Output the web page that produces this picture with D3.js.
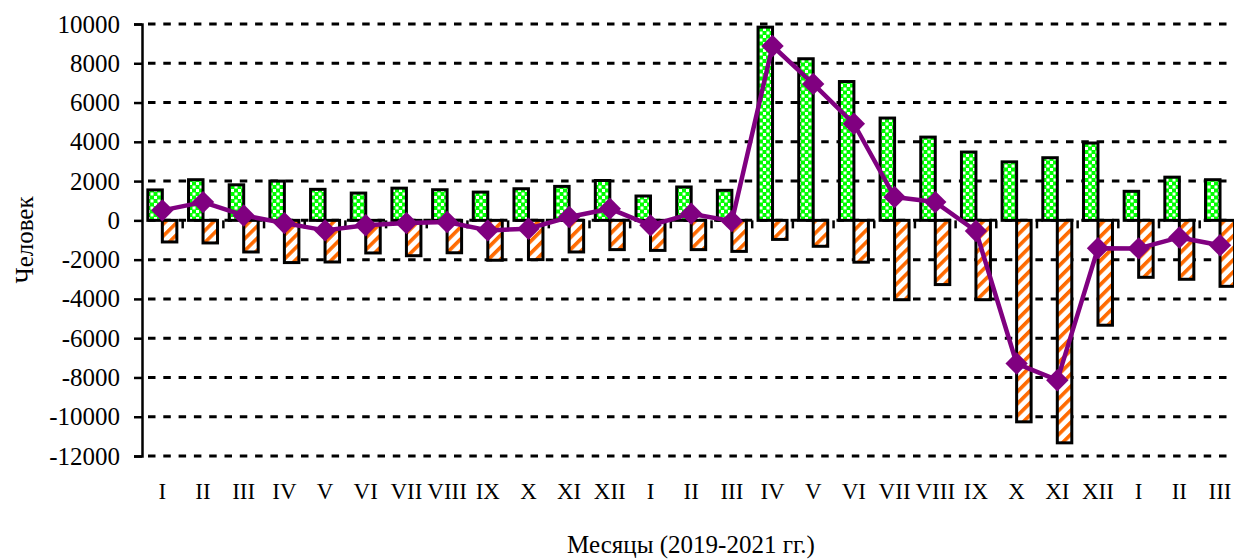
<!DOCTYPE html>
<html>
<head>
<meta charset="utf-8">
<script src="https://cdn.jsdelivr.net/npm/d3@7"></script>
<style>
  html, body { margin: 0; padding: 0; background: #fff; overflow: hidden; }
  svg, svg text { font-family: "Liberation Serif", "Times New Roman", serif !important; }
</style>
</head>
<body>
<div id="chart"></div>
<script>
// months 2019 I .. 2021 III
const months = ["I","II","III","IV","V","VI","VII","VIII","IX","X","XI","XII",
                "I","II","III","IV","V","VI","VII","VIII","IX","X","XI","XII",
                "I","II","III"];
// arrivals (green, positive)
const arrived = [1550, 2070, 1810, 2000, 1580, 1390, 1640, 1560, 1440, 1610, 1730, 2030,
                 1240, 1700, 1530, 9840, 8230, 7070, 5210, 4240, 3480, 2980, 3190, 3940,
                 1480, 2200, 2070];
// departures (orange, negative)
const departed = [-1100, -1150, -1610, -2150, -2120, -1660, -1800, -1650, -2030, -2000, -1610, -1490,
                  -1530, -1490, -1580, -970, -1320, -2130, -4040, -3270, -4040, -10260, -11330, -5340,
                  -2900, -3000, -3360];
// net migration (purple line)
const net = [510, 930, 250, -140, -510, -250, -140, -85, -510, -425, 170, 595,
             -255, 340, -40, 8880, 6950, 4920, 1190, 930, -540, -7290, -8140, -1420,
             -1430, -870, -1270];
const yTicks = d3.range(-12000, 10001, 2000);

// dimensions
let margin = {top: 24, left: 142},
    plotH = 432,
    band = 40.68,
    barW = 14.5;
let W = 1234, H = 560;

let svg = d3.select("#chart").append("svg")
  .attr("width", W).attr("height", H);

let defs = svg.append("defs");
// green checker pattern
let chk = defs.append("pattern").attr("id", "chk")
  .attr("patternUnits", "userSpaceOnUse").attr("width", 7).attr("height", 7);
chk.append("rect").attr("width", 7).attr("height", 7).attr("fill", "#00ff00");
chk.append("rect").attr("width", 3).attr("height", 3).attr("fill", "#ffffff");
chk.append("rect").attr("x", 3.5).attr("y", 3.5).attr("width", 3).attr("height", 3).attr("fill", "#ffffff");
// orange diagonal stripes
let str = defs.append("pattern").attr("id", "str")
  .attr("patternUnits", "userSpaceOnUse").attr("width", 8.5).attr("height", 8.5)
  .attr("patternTransform", "rotate(45)");
str.append("rect").attr("width", 8.5).attr("height", 8.5).attr("fill", "#ffffff");
str.append("rect").attr("width", 3.6).attr("height", 8.5).attr("fill", "#ff6a00");

// scales
let x = d3.scaleBand().domain(d3.range(months.length))
  .range([margin.left, margin.left + band * months.length]).paddingInner(0).paddingOuter(0);
let y = d3.scaleLinear().domain([-12000, 10000]).range([margin.top + plotH, margin.top]);
let cx = i => x(i) + x.bandwidth() / 2;

// dashed gridlines
svg.append("g").selectAll("line").data(yTicks).enter().append("line")
  .attr("x1", margin.left + 6).attr("x2", W)
  .attr("y1", d => y(d)).attr("y2", d => y(d))
  .attr("stroke", "#000").attr("stroke-width", 3)
  .attr("stroke-dasharray", "7.5,7.8");

// category boundary ticks on the zero line
svg.append("g").selectAll("line").data(d3.range(1, months.length + 1)).enter().append("line")
  .attr("x1", d => x.range()[0] + d * x.step()).attr("x2", d => x.range()[0] + d * x.step())
  .attr("y1", y(0)).attr("y2", y(0) + 8)
  .attr("stroke", "#000").attr("stroke-width", 2.5);

// bars
svg.append("g").selectAll("rect").data(arrived).enter().append("rect")
  .attr("x", (d, i) => cx(i) - barW)
  .attr("width", barW)
  .attr("y", d => y(d))
  .attr("height", d => y(0) - y(d))
  .attr("fill", "url(#chk)").attr("stroke", "#000").attr("stroke-width", 3);

svg.append("g").selectAll("rect").data(departed).enter().append("rect")
  .attr("x", (d, i) => cx(i))
  .attr("width", barW)
  .attr("y", y(0))
  .attr("height", d => y(d) - y(0))
  .attr("fill", "url(#str)").attr("stroke", "#000").attr("stroke-width", 3);

// net line
let line = d3.line().x((d, i) => cx(i)).y(d => y(d));
svg.append("path").datum(net)
  .attr("d", line).attr("fill", "none")
  .attr("stroke", "#800080").attr("stroke-width", 4.5).attr("stroke-linejoin", "round");
svg.append("g").selectAll("path").data(net).enter().append("path")
  .attr("d", d3.symbol().type(d3.symbolSquare).size(250))
  .attr("transform", (d, i) => "translate(" + cx(i) + "," + y(d) + ") rotate(45)")
  .attr("fill", "#800080");

// y axis
let yAxis = svg.append("g")
  .attr("transform", "translate(" + margin.left + ",0)")
  .call(d3.axisLeft(y).tickValues(yTicks).tickFormat(d => String(d)).tickSize(8).tickSizeOuter(8).tickPadding(14));
yAxis.attr("font-family", null).attr("font-size", 25);
yAxis.select(".domain").attr("stroke-width", 2.5);
yAxis.selectAll(".tick line").attr("stroke-width", 2.5);
yAxis.selectAll("text").attr("fill", "#000").style("font-size", "25px");

// x labels
let xAxis = svg.append("g")
  .attr("transform", "translate(0," + (margin.top + plotH + 24) + ")")
  .call(d3.axisBottom(x).tickFormat(i => months[i]).tickSize(0));
xAxis.attr("font-family", null).attr("font-size", 23);
xAxis.select(".domain").remove();
xAxis.selectAll("text").attr("fill", "#000").style("font-size", "23px");

// axis titles
svg.append("text")
  .attr("x", 691).attr("y", 553)
  .attr("text-anchor", "middle").attr("font-size", 25)
  .text("Месяцы (2019-2021 гг.)");
svg.append("text")
  .attr("transform", "translate(33," + 240 + ") rotate(-90)")
  .attr("text-anchor", "middle").attr("font-size", 25)
  .text("Человек");
</script>
</body>
</html>
